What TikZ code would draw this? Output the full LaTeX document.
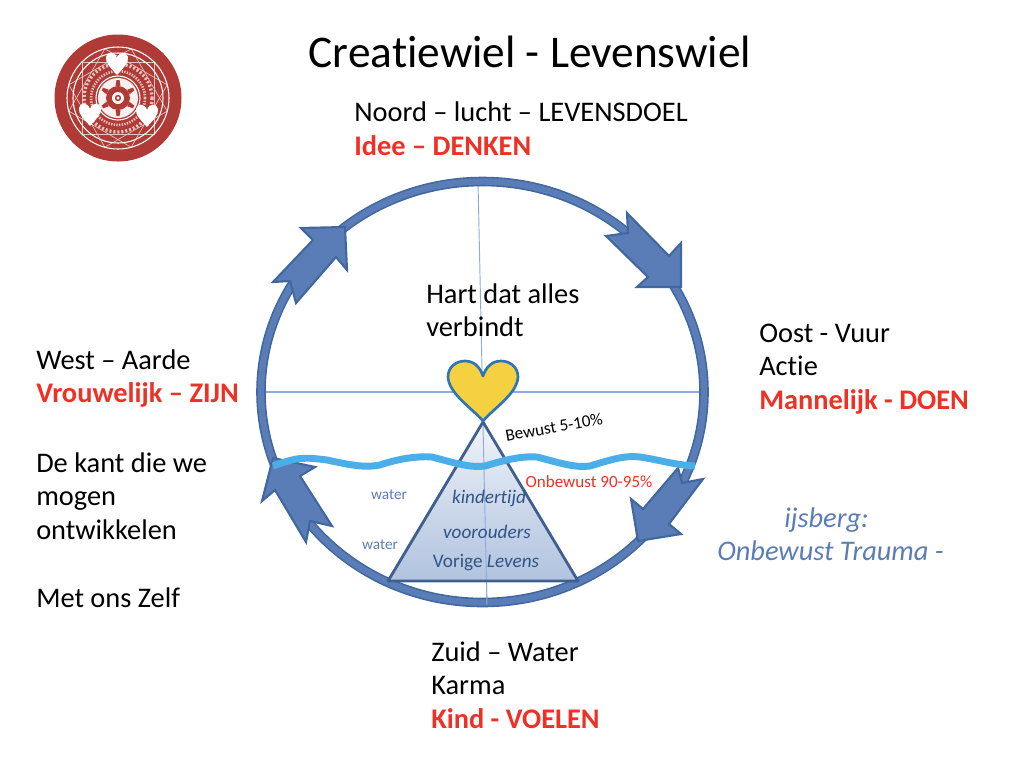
\documentclass[tikz,border=0pt]{standalone}
\usepackage{fontspec}
\setmainfont[Ligatures=NoCommon]{Carlito}
\usetikzlibrary{shadings}
\definecolor{ringedge}{HTML}{41689E}
\definecolor{ringfill}{HTML}{5A7DB8}
\definecolor{thinline}{HTML}{8FAADC}
\definecolor{wave}{HTML}{4AAEE8}
\definecolor{heartfill}{HTML}{F5D142}
\definecolor{heartedge}{HTML}{2E75B6}
\definecolor{redtext}{HTML}{EE3124}
\definecolor{bluetext}{HTML}{5B7DB6}
\definecolor{darkblue}{HTML}{2F5486}
\definecolor{triedge}{HTML}{3F5F8F}
\definecolor{logored}{HTML}{B03A35}
\definecolor{icetop}{HTML}{F2F5FA}
\definecolor{icebot}{HTML}{B1C3DF}
\tikzset{
  px/.style={x=0.75pt,y=-0.75pt},
  lab/.style={inner sep=0pt,anchor=west,font=\fontsize{21.3}{25}\selectfont,text height=14pt,text depth=4pt,text=black},
  redlab/.style={lab,font=\fontsize{21.3}{25}\selectfont\bfseries,text=redtext},
  arrowshape/.style={fill=ringfill,draw=ringedge,line width=1.6pt,line join=miter},
  tri/.style={inner sep=0pt,text=darkblue,font=\fontsize{14.4}{17}\selectfont},
  small/.style={inner sep=0pt,font=\fontsize{12.8}{15}\selectfont},
  logoline/.style={draw=white,line width=0.8pt},
  logofaint/.style={draw=white!70!logored,line width=0.5pt},
}
\begin{document}
\begin{tikzpicture}[px]
\useasboundingbox (0,0) rectangle (1024,765);
% logo
\fill[logored] (118,98) circle[radius=63.5];
\foreach \a in {0,30,60}{
  \draw[logofaint,rotate around={\a:(118,98)}] (82,62) rectangle (154,134);
}
\foreach \r in {51,45,22}{ \draw[logoline] (118,98) circle[radius=\r]; }
\draw[logofaint,line width=2.5pt,dash pattern=on 1.5pt off 1.5pt] (118,98) circle[radius=34];
\draw[logofaint,line width=2pt,dash pattern=on 1pt off 1pt] (118,98) circle[radius=27];
\fill[white!92!logored] (118,98) circle[radius=20];
\foreach \a in {0,60,...,300}{
  \fill[logored,rotate around={\a:(118,98)}] (115.5,86) -- (116.5,80) -- (119.5,80) -- (120.5,86) -- cycle;
}
\fill[logored] (118,98) circle[radius=12];
\fill[white] (118,98) circle[radius=6];
\fill[logored] (118,98) circle[radius=3.2];
\fill[white] (118,98) circle[radius=1.6];
\foreach \hx/\hy in {117/63,90/114,147/115}{
  \fill[white] (\hx,\hy+12) .. controls (\hx-6,\hy+5) and (\hx-12,\hy) .. (\hx-11,\hy-6)
     .. controls (\hx-10,\hy-12) and (\hx-2,\hy-12) .. (\hx,\hy-5)
     .. controls (\hx+2,\hy-12) and (\hx+10,\hy-12) .. (\hx+11,\hy-6)
     .. controls (\hx+12,\hy) and (\hx+6,\hy+5) .. (\hx,\hy+12) -- cycle;
}
% cross lines
\draw[thinline,line width=0.7pt] (478,181) -- (487,605);
\draw[thinline,line width=0.9pt] (265,392) -- (701,392);
% ring
\draw[ringedge,line width=7.2pt] (482.5,392) ellipse[x radius=221.5,y radius=210.5];
\draw[ringfill,line width=4.8pt] (482.5,392) ellipse[x radius=221.5,y radius=210.5];
% arrows
\draw[arrowshape] (345,227) -- (301,228) -- (313,240) -- (273,282) -- (290,281) -- (296,303) -- (336,257) -- (347,270) -- cycle;
\draw[arrowshape] (627,213) -- (628,233) -- (606,236) -- (648,277) -- (637,287) -- (681,287) -- (681,243) -- (669,256) -- cycle;
\draw[arrowshape] (703,479) -- (682,483) -- (678,468) -- (643,509) -- (631,499) -- (638,541) -- (681,534) -- (669,524) -- cycle;
\draw[arrowshape] (273,458) -- (315,467) -- (300,476) -- (332,526) -- (310,521) -- (306,542) -- (275,490) -- (262,501) -- cycle;
% iceberg
\shade[top color=icetop,bottom color=icebot,middle color=icebot!55!icetop] (483,422) -- (388,581) -- (578,581) -- cycle;
\draw[thinline,line width=0.7pt] (483,425) -- (487,605);
\draw[triedge,line width=2.1pt,line join=round] (483,422) -- (388,581) -- (578,581) -- cycle;
% wave
\draw[wave,line width=5.2pt] (273,466) .. controls (298,457) and (303,457) .. (327,460)
  .. controls (350,465) and (365,468) .. (380,465)
  .. controls (400,458) and (420,456) .. (432,457)
  .. controls (455,463) and (470,468) .. (485,466)
  .. controls (505,460) and (520,456) .. (537,457)
  .. controls (560,463) and (575,468) .. (590,466)
  .. controls (610,460) and (625,455) .. (640,457)
  .. controls (660,460) and (675,465) .. (695,466);
% heart
\draw[fill=heartfill,draw=heartedge,line width=2pt,line join=round] (483,421)
  .. controls (472,408) and (449,394) .. (448,377)
  .. controls (448,367) and (456,361) .. (465,361)
  .. controls (474,361) and (480,367) .. (483,376)
  .. controls (486,367) and (492,361) .. (501,361)
  .. controls (510,361) and (518,367) .. (518,377)
  .. controls (517,394) and (494,408) .. (483,421) -- cycle;
% texts
\node[inner sep=0pt,font=\fontsize{34}{40}\selectfont] (title) at (530,52) {Creatiewiel - Levenswiel};
\node[lab] (noord) at (354,115) {Noord – lucht – LEVENSDOEL};
\node[redlab] (idee) at (354,149) {Idee – DENKEN};
\node[lab] (hart1) at (426,297) {Hart dat alles};
\node[lab] (hart2) at (426,330) {verbindt};
\node[lab] (oost) at (759,336) {Oost - Vuur};
\node[lab] (actie) at (759,369) {Actie};
\node[redlab] (man) at (759,403) {Mannelijk - DOEN};
\node[lab] (west) at (36,363) {West – Aarde};
\node[redlab] (vrouw) at (36,396) {Vrouwelijk – ZIJN};
\node[lab] (kant1) at (36,466) {De kant die we};
\node[lab] (kant2) at (36,499) {mogen};
\node[lab] (kant3) at (36,533) {ontwikkelen};
\node[lab] (zelf) at (36,601) {Met ons Zelf};
\node[lab,text=bluetext,font=\fontsize{21.3}{25}\selectfont\itshape] (ijs1) at (784,521) {ijsberg:};
\node[lab,text=bluetext,font=\fontsize{21.3}{25}\selectfont\itshape] (ijs2) at (717,554) {Onbewust Trauma -};
\node[lab] (zuid) at (431,655) {Zuid – Water};
\node[lab] (karma) at (431,688) {Karma};
\node[redlab] (kind) at (431,722) {Kind - VOELEN};
\node[small,rotate=10] (bewust) at (554,427) {Bewust 5-10\%};
\node[small,text=redtext] (onbewust) at (589,482) {Onbewust 90-95\%};
\node[small,text=bluetext,font=\fontsize{11.5}{14}\selectfont] (water1) at (389,495) {water};
\node[small,text=bluetext,font=\fontsize{11.5}{14}\selectfont] (water2) at (380,545) {water};
\node[tri,font=\fontsize{14.4}{17}\selectfont\itshape] (kinder) at (489,498) {kindertijd};
\node[tri,font=\fontsize{14.4}{17}\selectfont\itshape] (voor) at (487,532) {voorouders};
\node[tri] (vorige) at (486,563) {Vorige \textit{Levens}};
\end{tikzpicture}
\end{document}
